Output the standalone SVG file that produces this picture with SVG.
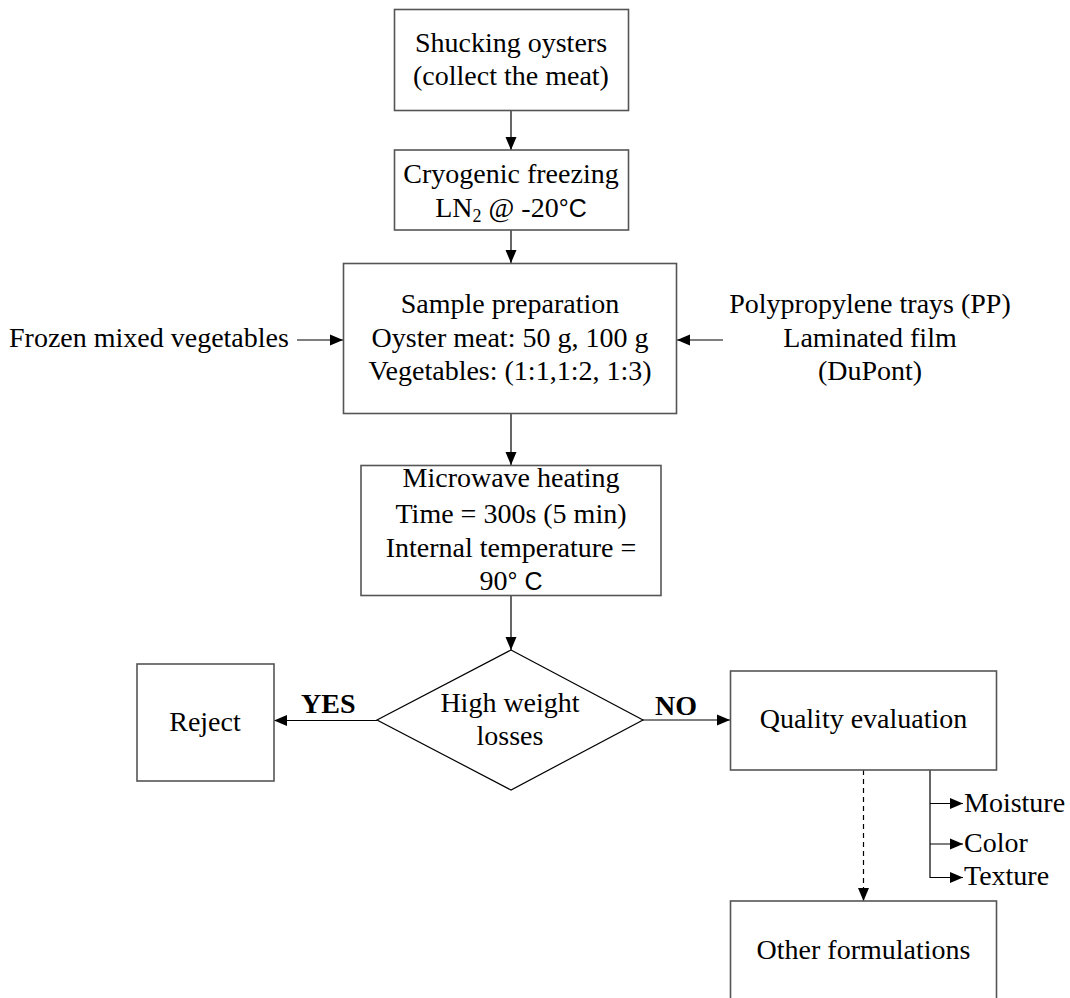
<svg xmlns="http://www.w3.org/2000/svg" width="1070" height="998" viewBox="0 0 1070 998">
<style>
text{font-family:"Liberation Serif","Times New Roman",serif;font-size:28px;fill:#000}
.c{text-anchor:middle}
.b{font-weight:bold}
.sans{font-family:"Liberation Sans",Arial,sans-serif;font-size:25px}
.box{fill:#fff;stroke:#555;stroke-width:1.6}
.ln{fill:none;stroke:#000;stroke-width:1.2}
.dash{fill:none;stroke:#000;stroke-width:1.2;stroke-dasharray:5,4}
</style>
<defs>
<marker id="ah" markerUnits="userSpaceOnUse" markerWidth="14" markerHeight="12" refX="13" refY="6" orient="auto">
<path d="M0,0.5 L13,6 L0,11.5 z" fill="#000"/>
</marker>
</defs>
<g id="connectors">
<line class="ln" x1="511" y1="110" x2="511" y2="150" marker-end="url(#ah)"/>
<line class="ln" x1="511" y1="230" x2="511" y2="263" marker-end="url(#ah)"/>
<line class="ln" x1="297" y1="340" x2="343" y2="340" marker-end="url(#ah)"/>
<line class="ln" x1="723" y1="340" x2="677" y2="340" marker-end="url(#ah)"/>
<line class="ln" x1="511" y1="413" x2="511" y2="465" marker-end="url(#ah)"/>
<line class="ln" x1="511" y1="595" x2="511" y2="650" marker-end="url(#ah)"/>
<line class="ln" x1="377" y1="720.5" x2="274" y2="720.5" marker-end="url(#ah)"/>
<line class="ln" x1="643" y1="720" x2="730" y2="720" marker-end="url(#ah)"/>
<line class="dash" x1="863.5" y1="770" x2="863.5" y2="901" marker-end="url(#ah)"/>
<polyline class="ln" points="930,770 930,877.5 963,877.5" marker-end="url(#ah)"/>
<line class="ln" x1="930" y1="803.5" x2="963" y2="803.5" marker-end="url(#ah)"/>
<line class="ln" x1="930" y1="844" x2="963" y2="844" marker-end="url(#ah)"/>
<text class="b" x="301" y="713">YES</text>
<text class="b" x="655" y="715">NO</text>
</g>
<g id="shucking">
<rect class="box" x="394.5" y="9.5" width="234" height="101"/>
<text class="c" x="511" y="52">Shucking oysters</text>
<text class="c" x="511" y="85">(collect the meat)</text>
</g>
<g id="freezing">
<rect class="box" x="394.5" y="150" width="234" height="80"/>
<text class="c" x="511" y="183">Cryogenic freezing</text>
<text class="c" x="511" y="217">LN<tspan font-size="18" dy="5">2</tspan><tspan dy="-5"> @ -20</tspan><tspan class="sans">°C</tspan></text>
</g>
<g id="vegetables">
<text x="9" y="347">Frozen mixed vegetables</text>
</g>
<g id="packaging">
<text class="c" x="870" y="313">Polypropylene trays (PP)</text>
<text class="c" x="870" y="347">Laminated film</text>
<text class="c" x="870" y="380">(DuPont)</text>
</g>
<g id="sample">
<rect class="box" x="343.5" y="263.5" width="333" height="150"/>
<text class="c" x="510" y="313">Sample preparation</text>
<text class="c" x="510" y="347">Oyster meat: 50 g, 100 g</text>
<text class="c" x="510" y="380">Vegetables: (1:1,1:2, 1:3)</text>
</g>
<g id="microwave">
<rect class="box" x="361" y="465.5" width="300" height="130"/>
<text class="c" x="511" y="487">Microwave heating</text>
<text class="c" x="511" y="523">Time = 300s (5 min)</text>
<text class="c" x="511" y="557">Internal temperature =</text>
<text class="c" x="511" y="590">90<tspan class="sans">° C</tspan></text>
</g>
<g id="decision">
<polygon points="511,650 643,720 511,790 377,720" fill="#fff" stroke="#000" stroke-width="1.2"/>
<text class="c" x="510" y="712">High weight</text>
<text class="c" x="510" y="745">losses</text>
</g>
<g id="reject">
<rect class="box" x="137" y="664" width="137" height="117"/>
<text class="c" x="205" y="731">Reject</text>
</g>
<g id="quality">
<rect class="box" x="730.5" y="671" width="266" height="99"/>
<text class="c" x="863.5" y="728">Quality evaluation</text>
</g>
<g id="attributes">
<text x="964" y="812">Moisture</text>
<text x="964" y="852">Color</text>
<text x="964" y="885">Texture</text>
</g>
<g id="other">
<rect class="box" x="730.5" y="901" width="266" height="120"/>
<text class="c" x="863.5" y="959">Other formulations</text>
</g>
</svg>
